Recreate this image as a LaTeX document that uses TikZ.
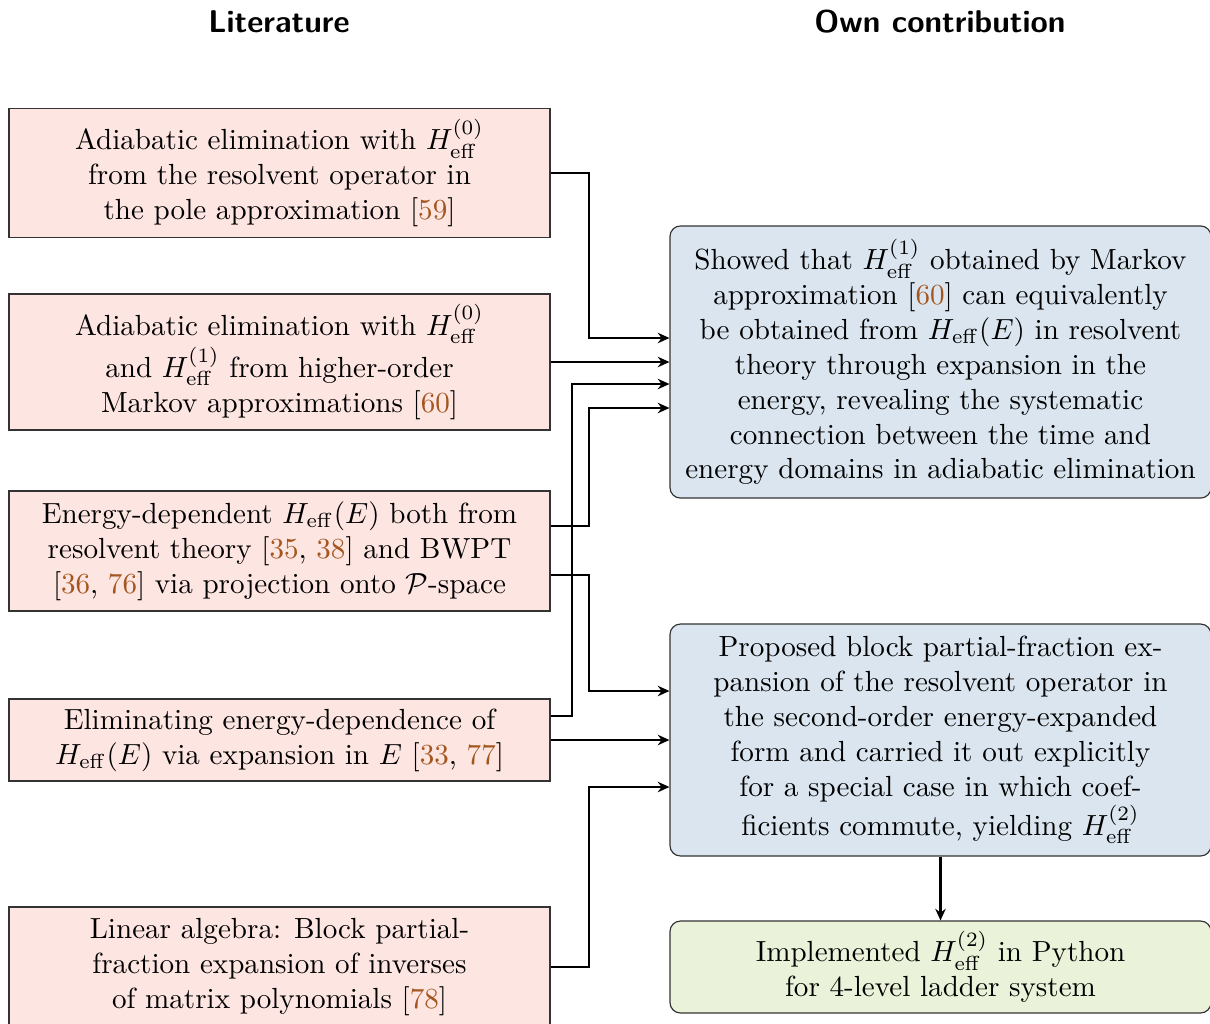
\documentclass[tikz,border=0pt]{standalone}
\usepackage{xcolor}
\usepackage{tikz}
\usetikzlibrary{arrows.meta,positioning,calc}
\definecolor{litfill}{HTML}{FDE5E2}
\definecolor{ownfill}{HTML}{DAE5EF}
\definecolor{implfill}{HTML}{EAF3D9}
\definecolor{bk80}{HTML}{333333}
\definecolor{citecol}{HTML}{A4561E}
\newcommand{\Heff}{H_{\mathrm{eff}}}
\newcommand{\cit}[1]{\textcolor{citecol}{#1}}
\tikzset{
  headtext/.style={font=\fontsize{10.8}{13}\selectfont\sffamily\bfseries, inner sep=2pt},
  litbox/.style={
    rectangle, draw=bk80, fill=litfill,
    minimum width=185.9pt, align=center,
    inner sep=3pt
  },
  ownbox/.style={
    rectangle, rounded corners=3.6pt, draw=bk80, fill=#1,
    minimum width=185.9pt, align=center,
    inner sep=3pt
  },
  ownbox/.default=ownfill,
  flowarrow/.style={
    -{Stealth[length=4pt,width=3.6pt]}, line width=0.7pt, color=black
  },
}
\begin{document}
\begin{tikzpicture}[x=0.3436pt,y=-0.3436pt]
  \useasboundingbox (0,0) rectangle (1210,1023);
  % column titles
  \node[headtext] (hlit) at (279,22) {Literature};
  \node[headtext] (hown) at (940,22) {Own contribution};
  % literature
  \node[litbox, minimum height=44.6pt] (l1) at (279.5,173)
    {Adiabatic elimination with $\Heff^{(0)}$\\ from the resolvent operator in\\
     the pole approximation [\cit{59}]};
  \node[litbox, minimum height=46.7pt] (l2) at (279.5,362)
    {Adiabatic elimination with $\Heff^{(0)}$\\ and $\Heff^{(1)}$ from higher-order\\
     Markov approximations [\cit{60}]};
  \node[litbox, minimum height=41.2pt] (l3) at (279.5,551)
    {Energy-dependent $\Heff(E)$ both from\\ resolvent theory [\cit{35}, \cit{38}] and BWPT\\\relax
     [\cit{36}, \cit{76}] via projection onto $\mathcal{P}$-space};
  \node[litbox, minimum height=28.2pt] (l4) at (279.5,740)
    {Eliminating energy-dependence of\\ $\Heff(E)$ via expansion in $E$ [\cit{33}, \cit{77}]};
  \node[litbox, minimum height=41.2pt] (l5) at (279.5,967)
    {Linear algebra: Block partial-\\ fraction expansion of inverses\\
     of matrix polynomials [\cit{78}]};
  % own contribution
  \node[ownbox, minimum height=93.5pt] (r1) at (940.5,362)
    {Showed that $\Heff^{(1)}$ obtained by Markov\\ approximation [\cit{60}] can equivalently\\
     be obtained from $\Heff(E)$ in resolvent\\ theory through expansion in the\\
     energy, revealing the systematic\\ connection between the time and\\
     energy domains in adiabatic elimination};
  \node[ownbox, minimum height=79.7pt] (r2) at (940.5,740)
    {Proposed block partial-fraction ex-\\ pansion of the resolvent operator in\\
     the second-order energy-expanded\\ form and carried it out explicitly\\
     for a special case in which coef-\\ ficients commute, yielding $\Heff^{(2)}$};
  \node[ownbox=implfill, minimum height=31.6pt] (r3) at (940.5,967)
    {Implemented $\Heff^{(2)}$ in Python\\ for 4-level ladder system};
  % connections
  \draw[flowarrow] (l1.east) -- ++(38,0) |- ($(r1.west)+(0,-24)$);
  \draw[flowarrow] (l2.east) -- (r1.west);
  \draw[flowarrow] ($(l4.east)+(0,-24)$) -- ++(21,0) |- ($(r1.west)+(0,22)$);
  \draw[flowarrow] ($(l3.east)+(0,-25)$) -- ++(38,0) |- ($(r1.west)+(0,46)$);
  \draw[flowarrow] ($(l3.east)+(0,24)$) -- ++(38,0) |- ($(r2.west)+(0,-49)$);
  \draw[flowarrow] (l4.east) -- (r2.west);
  \draw[flowarrow] (l5.east) -- ++(38,0) |- ($(r2.west)+(0,47)$);
  \draw[flowarrow] (r2) -- (r3);
\end{tikzpicture}
\end{document}
